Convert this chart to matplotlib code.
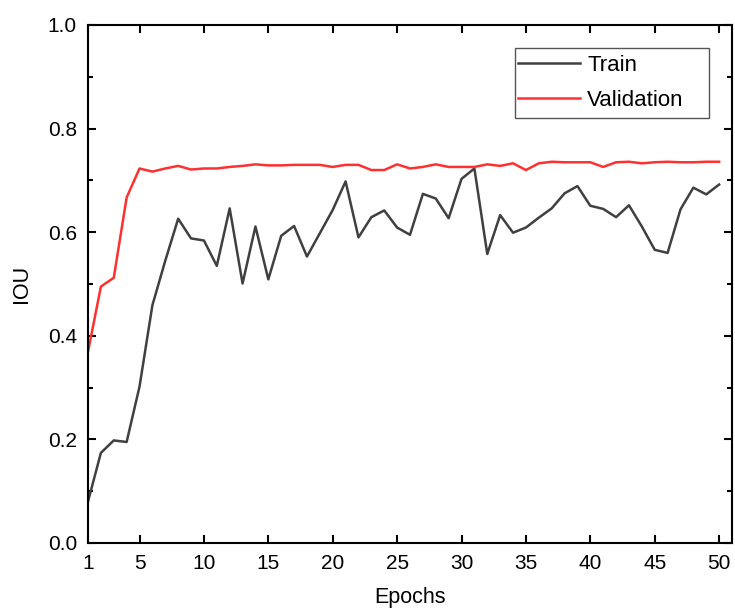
import matplotlib
matplotlib.use("Agg")
import matplotlib.pyplot as plt
from matplotlib.patches import Rectangle
from matplotlib.ticker import MultipleLocator, FixedLocator, FormatStrFormatter

plt.rcParams['font.family'] = ['Liberation Sans', 'DejaVu Sans']

epochs = list(range(1, 51))
train_iou = [0.080, 0.174, 0.198, 0.195, 0.302, 0.459, 0.545, 0.626, 0.588, 0.584,
             0.535, 0.646, 0.501, 0.611, 0.509, 0.593, 0.612, 0.553, 0.598, 0.643,
             0.698, 0.590, 0.629, 0.642, 0.609, 0.595, 0.674, 0.665, 0.627, 0.703,
             0.723, 0.558, 0.633, 0.599, 0.609, 0.628, 0.646, 0.675, 0.689, 0.651,
             0.645, 0.629, 0.652, 0.611, 0.566, 0.560, 0.644, 0.686, 0.673, 0.692]
val_iou = [0.369, 0.495, 0.512, 0.667, 0.723, 0.717, 0.723, 0.728, 0.721, 0.723,
           0.723, 0.726, 0.728, 0.731, 0.729, 0.729, 0.730, 0.730, 0.730, 0.726,
           0.730, 0.730, 0.720, 0.720, 0.731, 0.723, 0.726, 0.731, 0.726, 0.726,
           0.726, 0.731, 0.728, 0.733, 0.720, 0.733, 0.736, 0.735, 0.735, 0.735,
           0.726, 0.735, 0.736, 0.733, 0.735, 0.736, 0.735, 0.735, 0.736, 0.736]
x_ticks = [1, 5, 10, 15, 20, 25, 30, 35, 40, 45, 50]

fig = plt.figure(figsize=(7.35, 6.11), dpi=100)
ax = fig.add_axes([88/735, 68/611, 644/735, 518/611])

ax.plot(epochs, train_iou, color='#404040', lw=1.8, label='Train')
ax.plot(epochs, val_iou, color='#ff3030', lw=1.8, label='Validation')

ax.set_xlim(1, 51)
ax.set_ylim(0, 1.0)
ax.xaxis.set_major_locator(FixedLocator(x_ticks))
ax.yaxis.set_major_locator(MultipleLocator(0.2))
ax.yaxis.set_minor_locator(MultipleLocator(0.1))
ax.yaxis.set_major_formatter(FormatStrFormatter('%.1f'))

ax.tick_params(axis='both', which='major', direction='in', length=6, width=1.5,
               labelsize=15, top=True, right=True, pad=8)
ax.tick_params(axis='y', which='minor', direction='in', length=3.5, width=1.5,
               right=True, left=True)
for s in ax.spines.values():
    s.set_linewidth(1.5)

ax.set_xlabel('Epochs', fontsize=15.5, labelpad=10)
ax.set_ylabel('IOU', fontsize=15.5, labelpad=11)

leg = ax.legend(loc='upper left', bbox_to_anchor=(0.6677, 0.943), borderaxespad=0,
                fontsize=16, frameon=False,
                handlelength=2.8, handletextpad=0.32, labelspacing=0.63,
                borderpad=0)
# legend frame (wider than its content, as in the reference)
ax.add_patch(Rectangle((0.663, 0.8205), 0.301, 0.1351, transform=ax.transAxes,
                       facecolor='white', edgecolor='#555555', lw=1.0, zorder=4.5))
leg.set_zorder(5)

fig.savefig('out.png', dpi=100)
